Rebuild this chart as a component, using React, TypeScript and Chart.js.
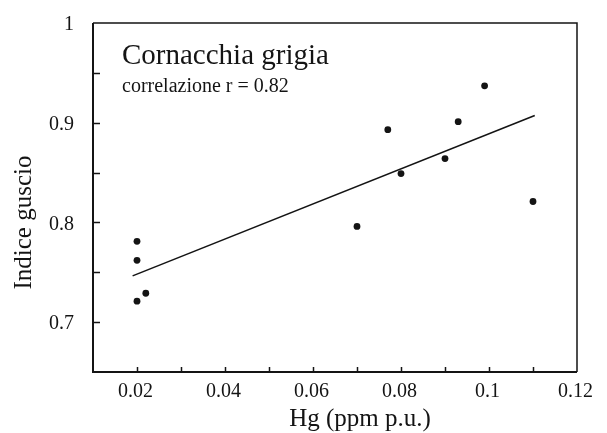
import React, { useEffect, useRef } from "react";
import { Chart, registerables } from "chart.js";

Chart.register(...registerables);

// ---- data ----
const hgValues = [0.02, 0.02, 0.02, 0.022, 0.07, 0.077, 0.08, 0.09, 0.093, 0.099, 0.11];
const shellIndex = [0.781, 0.762, 0.721, 0.729, 0.796, 0.893, 0.849, 0.864, 0.901, 0.937, 0.821];
const fitX = [0.019, 0.1104];
const fitY = [0.7464, 0.9072];
const xTickLabels = [0.02, 0.04, 0.06, 0.08, 0.1, 0.12];
const yTickLabels = [0.7, 0.8, 0.9, 1];
const xTickMarks = [0.02, 0.03, 0.04, 0.05, 0.06, 0.07, 0.08, 0.09, 0.1, 0.11];
const yTickMarks = [0.7, 0.75, 0.8, 0.85, 0.9, 0.95];
const chartTitle = "Cornacchia grigia";
const chartSubtitle = "correlazione r = 0.82";
const xTitle = "Hg (ppm p.u.)";
const yTitle = "Indice guscio";

const FONT = "'Liberation Serif', 'Times New Roman', serif";
const INK = "#141414";

const decorPlugin = {
  id: "decor",
  beforeDraw(chart: any) {
    const { ctx, width, height } = chart;
    ctx.save();
    ctx.fillStyle = "#ffffff";
    ctx.fillRect(0, 0, width, height);
    ctx.restore();
  },
  afterDraw(chart: any) {
    const { ctx, chartArea } = chart;
    const { left, right, top, bottom } = chartArea;
    const xs = chart.scales.x;
    const ys = chart.scales.y;
    ctx.save();
    ctx.strokeStyle = INK;
    // frame
    ctx.lineWidth = 2;
    ctx.beginPath();
    ctx.moveTo(left, top);
    ctx.lineTo(left, bottom);
    ctx.lineTo(right, bottom);
    ctx.stroke();
    ctx.lineWidth = 1.5;
    ctx.beginPath();
    ctx.moveTo(left, top);
    ctx.lineTo(right, top);
    ctx.lineTo(right, bottom);
    ctx.stroke();
    // inward ticks
    ctx.lineWidth = 1.5;
    ctx.beginPath();
    xTickMarks.forEach((v) => {
      const px = Math.round(xs.getPixelForValue(v)) + 0.5;
      ctx.moveTo(px, bottom);
      ctx.lineTo(px, bottom - 5);
    });
    yTickMarks.forEach((v) => {
      const py = Math.round(ys.getPixelForValue(v)) + 0.5;
      ctx.moveTo(left, py);
      ctx.lineTo(left + 7, py);
    });
    ctx.stroke();
    // texts
    ctx.fillStyle = INK;
    ctx.textAlign = "left";
    ctx.textBaseline = "alphabetic";
    ctx.font = `29px ${FONT}`;
    ctx.fillText(chartTitle, left + 29, top + 41);
    ctx.font = `20px ${FONT}`;
    ctx.fillText(chartSubtitle, left + 29, top + 69);
    // axis titles
    ctx.font = `25px ${FONT}`;
    ctx.textAlign = "center";
    ctx.fillText(xTitle, (left + right) / 2 + 25, 425.5);
    ctx.save();
    ctx.translate(31, (top + bottom) / 2 + 25);
    ctx.rotate(-Math.PI / 2);
    ctx.fillText(yTitle, 0, 0);
    ctx.restore();
    ctx.restore();
  },
};

export default function App() {
  const canvasRef = useRef<HTMLCanvasElement | null>(null);

  useEffect(() => {
    document.body.style.margin = "0";
    const canvas = canvasRef.current;
    if (!canvas) return;
    const points = hgValues.map((x, i) => ({ x, y: shellIndex[i] }));
    const fit = fitX.map((x, i) => ({ x, y: fitY[i] }));
    const chart = new Chart(canvas, {
      type: "scatter",
      data: {
        datasets: [
          {
            label: "Cornacchia grigia",
            data: points,
            backgroundColor: INK,
            borderColor: INK,
            pointRadius: 3.4,
            pointBorderWidth: 0,
            showLine: false,
          },
          {
            label: "fit",
            data: fit,
            showLine: true,
            borderColor: INK,
            borderWidth: 1.6,
            pointRadius: 0,
            fill: false,
          },
        ],
      },
      options: {
        responsive: false,
        animation: false,
        layout: { padding: { top: 15, right: 30, left: 0, bottom: 0 } },
        plugins: {
          legend: { display: false },
          tooltip: { enabled: false },
          title: { display: false },
        },
        scales: {
          x: {
            type: "linear",
            min: 0.01,
            max: 0.12,
            afterBuildTicks: (s: any) => {
              s.ticks = xTickLabels.map((v) => ({ value: v }));
            },
            afterFit: (s: any) => {
              s.height = 61;
            },
            grid: { display: false },
            border: { display: false },
            ticks: {
              autoSkip: false,
              maxRotation: 0,
              padding: 0,
              labelOffset: -1.5,
              color: INK,
              font: { family: FONT, size: 20 },
              callback: (v: any) => String(v),
            },
          },
          y: {
            type: "linear",
            min: 0.65,
            max: 1,
            afterBuildTicks: (s: any) => {
              s.ticks = yTickLabels.map((v) => ({ value: v }));
            },
            afterFit: (s: any) => {
              s.width = 93;
            },
            grid: { display: false },
            border: { display: false },
            ticks: {
              autoSkip: false,
              padding: 11,
              labelOffset: 2,
              color: INK,
              font: { family: FONT, size: 20 },
              callback: (v: any) => String(v),
            },
          },
        },
      },
      plugins: [decorPlugin],
    });
    return () => chart.destroy();
  }, []);

  return (
    <div style={{ position: "absolute", left: 0, top: 0, width: 607, height: 433 }}>
      <canvas ref={canvasRef} width={607} height={433} style={{ display: "block" }} />
    </div>
  );
}
